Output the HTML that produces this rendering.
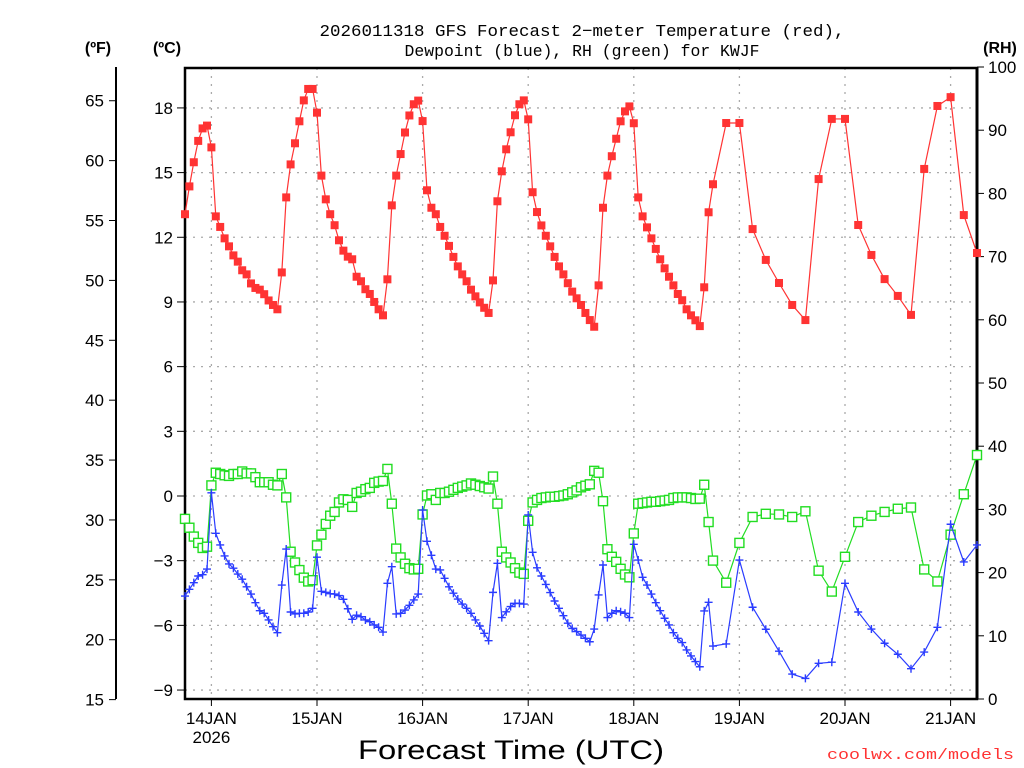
<!DOCTYPE html>
<html><head><meta charset="utf-8"><style>
html,body{margin:0;padding:0;background:#fff;width:1024px;height:768px;overflow:hidden}
svg{display:block}
text{font-family:"Liberation Sans",sans-serif}
</style></head><body>
<svg id="chart" width="1024" height="768" viewBox="0 0 1024 768" xmlns="http://www.w3.org/2000/svg">
<text x="582" y="36" text-anchor="middle" font-size="17" style="font-family:'Liberation Mono',monospace" textLength="525" lengthAdjust="spacingAndGlyphs">2026011318 GFS Forecast 2−meter Temperature (red),</text>
<text x="582" y="56" text-anchor="middle" font-size="17" style="font-family:'Liberation Mono',monospace" textLength="355" lengthAdjust="spacingAndGlyphs">Dewpoint (blue), RH (green) for KWJF</text>
<text x="98" y="53" text-anchor="middle" font-size="16" font-weight="bold">(ºF)</text>
<text x="167" y="53" text-anchor="middle" font-size="16" font-weight="bold">(ºC)</text>
<text x="1000" y="53" text-anchor="middle" font-size="16" font-weight="bold">(RH)</text>
<text x="511" y="759" text-anchor="middle" font-size="27" textLength="306" lengthAdjust="spacingAndGlyphs">Forecast Time (UTC)</text>
<text x="1014" y="759" text-anchor="end" font-size="15" fill="#ff3333" style="font-family:'Liberation Mono',monospace" textLength="187" lengthAdjust="spacingAndGlyphs">coolwx.com/models</text>
<g id="grid"></g><g id="axes"></g><g id="series"></g>
</svg>
<script>
const hoursHourly = Array.from({length:121},(_,i)=>i);
const hours3 = [123,126,129,132,135,138,141,144,147,150,153,156,159,162,165,168,171,174,177,180];
const tempC = [13.07,14.36,15.48,16.47,17.05,17.18,16.17,12.97,12.48,11.95,11.58,11.16,10.87,10.47,10.28,9.86,9.65,9.57,9.36,9.07,8.86,8.66,
10.37,13.85,15.38,16.36,17.38,18.35,18.88,18.88,17.78,14.86,13.76,13.07,12.56,11.86,11.38,11.1,10.98,10.17,9.96,9.59,9.37,9.0,8.66,8.38,
10.05,13.48,14.86,15.86,16.86,17.65,18.17,18.34,17.39,14.18,13.37,13.07,12.48,12.07,11.6,
11.09,10.65,10.28,9.96,9.57,9.26,8.98,8.73,8.49,10.0,13.67,15.06,16.08,16.87,17.66,18.17,18.35,17.47,14.09,13.17,12.55,12.07,11.58,11.09,10.65,10.28,9.87,9.48,9.17,8.86,8.49,8.16,7.85,
9.77,13.37,14.86,15.76,16.57,17.38,17.84,18.07,17.29,13.85,12.97,12.46,11.95,11.46,10.98,10.56,10.17,9.77,9.37,9.08,8.66,8.38,8.15,7.88,9.68,13.16,14.46];
const tempC3 = [17.3,17.3,12.38,10.95,9.88,8.86,8.16,14.7,17.49,17.49,12.57,11.18,10.06,9.28,8.4,15.17,18.09,18.5,13.03,11.27];
const dewC = [-4.64,-4.33,-4.02,-3.71,-3.65,-3.39,0.15,-1.73,-2.27,-2.78,-3.15,-3.35,-3.62,-3.86,-4.21,-4.55,-4.95,-5.32,-5.44,-5.75,-6.06,-6.34,
-4.13,-2.46,-5.38,-5.47,-5.44,-5.44,-5.38,-5.21,-2.84,-4.42,-4.47,-4.53,-4.55,-4.62,-4.79,-5.23,-5.72,-5.53,-5.6,-5.75,-5.83,-5.98,-6.09,-6.31,
-4.05,-3.28,-5.47,-5.44,-5.29,-5.07,-4.82,-4.55,-0.65,-2.1,-2.75,-3.39,-3.43,-3.82,
-4.21,-4.51,-4.78,-5.01,-5.21,-5.44,-5.75,-6.03,-6.37,-6.71,-4.47,-3.12,-5.64,-5.37,-5.13,-4.98,-4.98,-5.01,-0.88,-2.61,-3.33,-3.71,-4.1,-4.48,-4.87,-5.21,-5.55,-5.9,-6.14,-6.29,-6.45,-6.6,-6.76,
-6.17,-4.59,-3.2,-5.64,-5.44,-5.32,-5.37,-5.44,-5.64,-2.24,-2.97,-3.77,-4.13,-4.55,-4.95,-5.32,-5.67,-5.98,-6.34,-6.6,-6.8,-7.14,-7.42,-7.68,-7.92,-5.33,-4.93,-6.96];
const dewC3 = [-6.86,-2.97,-5.16,-6.18,-7.2,-8.26,-8.46,-7.76,-7.71,-4.05,-5.38,-6.17,-6.83,-7.34,-8.01,-7.24,-6.09,-1.31,-3.06,-2.27];
const rhPct = [28.5,27.1,25.7,24.7,23.9,24.1,33.8,35.8,35.6,35.4,35.3,35.6,35.6,36.0,35.7,35.7,35.1,34.3,34.3,34.3,33.9,33.8,
35.6,31.9,23.3,21.6,20.4,19.2,18.6,18.8,24.3,26.0,27.7,29.0,29.6,31.1,31.6,31.5,30.4,32.6,32.8,33.2,33.4,34.2,34.4,34.5,
36.4,30.9,23.8,22.4,21.4,20.7,20.5,20.6,29.2,32.2,32.4,31.5,32.6,32.6,
32.8,33.1,33.4,33.6,33.8,34.1,33.9,33.7,33.5,33.3,35.2,30.9,23.3,22.4,21.6,20.7,20.0,19.8,28.2,31.1,31.5,31.8,31.9,32.0,32.0,32.1,32.2,32.4,32.7,33.0,33.5,33.75,33.97,
36.1,35.8,31.3,23.7,22.5,21.7,20.6,19.7,19.25,26.2,30.9,31.0,31.1,31.2,31.2,31.3,31.4,31.5,31.8,31.9,31.9,31.9,31.8,31.65,31.7,33.9,28.0,21.9];
const rhPct3 = [18.4,24.7,28.8,29.3,29.2,28.8,29.7,20.3,17.0,22.5,28.0,29.0,29.6,30.1,30.3,20.5,18.6,26.0,32.4,38.6];
const cTicks = [18,15,12,9,6,3,0,-3,-6,-9];
const fTicks = [65,60,55,50,45,40,35,30,25,20,15];
const rhTicks = [100,90,80,70,60,50,40,30,20,10,0];
const dayLabels = ["14JAN","15JAN","16JAN","17JAN","18JAN","19JAN","20JAN","21JAN"];
const dayHours = [6,30,54,78,102,126,150,174];

const NS="http://www.w3.org/2000/svg";
const L=185,R=977,T=68,B=699;
const xs=h=>L+(R-L)*h/180;
const yC=c=>496-c*21.56;
const yF=f=>yC((f-32)*5/9);
const yRH=r=>B-(B-67)*r/100;
function mk(tag,attrs,parent){const e=document.createElementNS(NS,tag);for(const k in attrs)e.setAttribute(k,attrs[k]);parent.appendChild(e);return e;}
const grid=document.getElementById('grid'),axes=document.getElementById('axes'),ser=document.getElementById('series');

cTicks.forEach(c=>{
  const y=yC(c);
  const g=mk('line',{x1:L,x2:R,y1:y,y2:y,stroke:'#aaa','stroke-width':1.3,'stroke-dasharray':'2,6'},grid);
  
  
  const t=mk('line',{x1:177,x2:L,y1:y,y2:y,stroke:'#000','stroke-width':1},axes);
  
  
  const lb=mk('text',{x:173,y:y+6,'text-anchor':'end','font-size':17},axes);
  lb.textContent=(c<0?'−'+(-c):c);
  
  
});
dayHours.forEach((h,i)=>{
  const x=xs(h);
  const g=mk('line',{x1:x,x2:x,y1:T,y2:B,stroke:'#aaa','stroke-width':1.3,'stroke-dasharray':'2,6'},grid);
  
  
  const t=mk('line',{x1:x,x2:x,y1:B,y2:B+7,stroke:'#000','stroke-width':1},axes);
  
  
  const lb=mk('text',{x:x,y:724,'text-anchor':'middle','font-size':17},axes);
  lb.textContent=dayLabels[i];
  
  
});
const yr=mk('text',{x:xs(6),y:743,'text-anchor':'middle','font-size':17},axes);
yr.textContent='2026';



const fr=mk('rect',{x:L,y:T,width:R-L,height:B-T,fill:'none',stroke:'#000','stroke-width':2.5},axes);


const fa=mk('line',{x1:116,x2:116,y1:67,y2:699,stroke:'#000','stroke-width':2},axes);


fTicks.forEach(f=>{
  const y=yF(f);
  const t=mk('line',{x1:109,x2:116,y1:y,y2:y,stroke:'#000','stroke-width':1},axes);
  
  
  const lb=mk('text',{x:104,y:y+6,'text-anchor':'end','font-size':17},axes);
  lb.textContent=f;
  
  
});
const ra=mk('line',{x1:R,x2:R,y1:67,y2:B,stroke:'#000','stroke-width':3},axes);


rhTicks.forEach(r=>{
  const y=yRH(r);
  const t=mk('line',{x1:R,x2:984,y1:y,y2:y,stroke:'#000','stroke-width':1},axes);
  
  
  const lb=mk('text',{x:988,y:y+6,'text-anchor':'start','font-size':17},axes);
  lb.textContent=r;
  
  
});

function drawSeries(vals,vals3,yfn,color,kind,name){
  const pts=[];
  hoursHourly.forEach((h,i)=>{if(vals[i]!==undefined)pts.push([xs(h),yfn(vals[i])]);});
  hours3.forEach((h,i)=>{if(vals3[i]!==undefined)pts.push([xs(h),yfn(vals3[i])]);});
  const g=mk('g',{},ser);
  
  
  const pl=mk('polyline',{points:pts.map(p=>p.join(',')).join(' '),fill:'none',stroke:color,'stroke-width':1.2},g);
  
  
  pts.forEach(([x,y])=>{
    let m;
    if(kind==='fsq'){m=mk('rect',{x:x-4,y:y-4,width:8,height:8,fill:color},g);}
    else if(kind==='osq'){m=mk('rect',{x:x-4.5,y:y-4.5,width:9,height:9,fill:'#fff',stroke:color,'stroke-width':1.4},g);}
    else {m=mk('path',{d:`M${x-4},${y}H${x+4}M${x},${y-4}V${y+4}`,stroke:color,'stroke-width':1.4},g);}
    
    
  });
}
drawSeries(rhPct,rhPct3,yRH,'#22dd22','osq','rh');
drawSeries(dewC,dewC3,yC,'#2a3cff','plus','dewpoint');
drawSeries(tempC,tempC3,yC,'#ff3333','fsq','temperature');
</script>
</body></html>
